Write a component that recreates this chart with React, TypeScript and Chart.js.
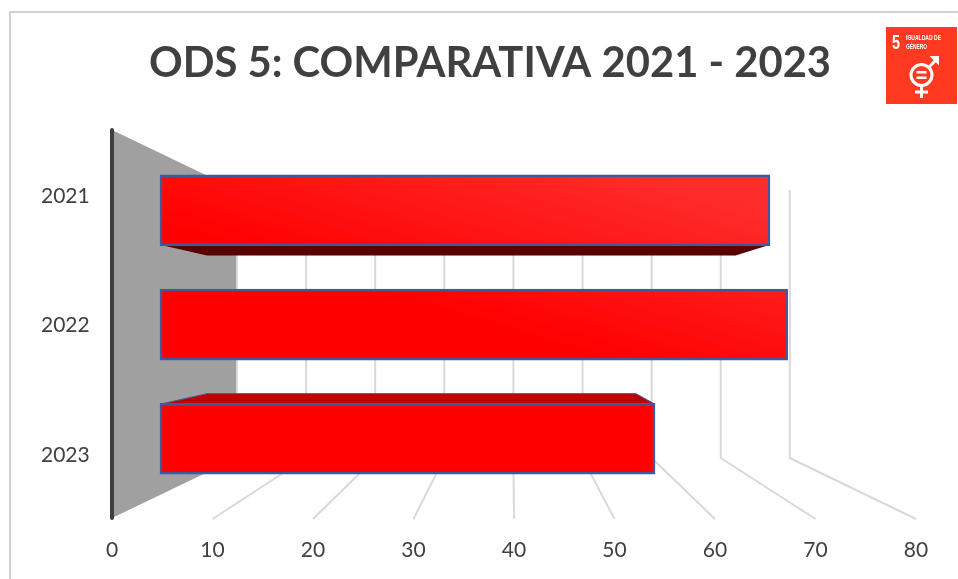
import React, { useEffect, useRef } from "react";
import { Chart, registerables } from "chart.js";

Chart.register(...registerables);

const years = ["2021", "2022", "2023"];
const values = [69, 71, 56];
const axisTicks = [0, 10, 20, 30, 40, 50, 60, 70, 80];

const FONT = "Lato, 'Open Sans', sans-serif";
const TEXT = "#404040";
const GRID = "#d9d9d9";

const BACK_TOP = 190;
const BACK_BOTTOM = 458;
const LIFT = 1.5;

// Places a hidden scale so that value 0 sits at pixel `p0`, spanning the 112..916 plot.
const hRange = (p0: number, perUnit: number) => ({
  min: (112 - p0) / perUnit,
  max: (916 - p0) / perUnit,
  offset: false,
});
const vRange = (spacing: number) => ({
  min: 1 - 193 / spacing,
  max: 1 + 195 / spacing,
  offset: false,
});

const decor = {
  id: "decor",
  beforeDraw(chart: any) {
    const { ctx } = chart;
    ctx.save();
    ctx.fillStyle = "#ffffff";
    ctx.fillRect(0, 0, chart.width, chart.height);
    ctx.strokeStyle = "#d0d0d0";
    ctx.lineWidth = 2;
    ctx.beginPath();
    ctx.moveTo(958, 12);
    ctx.lineTo(10, 12);
    ctx.lineTo(10, 579);
    ctx.stroke();

    // SDG 5 badge
    ctx.fillStyle = "#ff3a21";
    ctx.fillRect(886, 27, 71, 77);
    ctx.fillStyle = "#ffffff";
    ctx.textBaseline = "alphabetic";
    ctx.textAlign = "left";
    ctx.font = "bold 21px 'Liberation Sans', sans-serif";
    ctx.fillText("5", 892, 49, 8);
    ctx.font = "bold 7px 'Liberation Sans', sans-serif";
    ctx.fillText("IGUALDAD DE", 906, 40, 35);
    ctx.fillText("GÉNERO", 906, 49, 21);
    ctx.strokeStyle = "#ffffff";
    ctx.lineWidth = 3;
    ctx.beginPath();
    ctx.arc(921.5, 75, 10.5, 0, Math.PI * 2);
    ctx.moveTo(921.5, 86);
    ctx.lineTo(921.5, 98);
    ctx.moveTo(915, 92);
    ctx.lineTo(928, 92);
    ctx.moveTo(929, 67);
    ctx.lineTo(937, 59);
    ctx.stroke();
    ctx.beginPath();
    ctx.moveTo(939, 56);
    ctx.lineTo(939, 65.5);
    ctx.lineTo(929.5, 56);
    ctx.closePath();
    ctx.fill();
    ctx.fillRect(916.5, 71, 10, 2.5);
    ctx.fillRect(916.5, 76.5, 10, 2.5);
    ctx.restore();
  },
  beforeDatasetsDraw(chart: any) {
    const { ctx, scales } = chart;
    const { x, xBack, xBar, xRear, yBar, yRear, y } = scales;
    const wallTop = y.top - LIFT;
    const wallBottom = y.bottom - LIFT;
    const frontFloor = wallBottom + 1;
    const zero = x.getPixelForValue(0);
    const backZero = xBack.getPixelForValue(0);
    ctx.save();

    // left wall
    ctx.fillStyle = "#a0a0a0";
    ctx.beginPath();
    ctx.moveTo(zero, wallTop);
    ctx.lineTo(backZero, BACK_TOP);
    ctx.lineTo(backZero, BACK_BOTTOM);
    ctx.lineTo(zero, wallBottom);
    ctx.closePath();
    ctx.fill();

    // back wall + floor grid
    ctx.strokeStyle = GRID;
    ctx.lineWidth = 2;
    axisTicks.forEach((t) => {
      ctx.beginPath();
      ctx.moveTo(xBack.getPixelForValue(t), BACK_TOP);
      ctx.lineTo(xBack.getPixelForValue(t), BACK_BOTTOM);
      if (t > 0) ctx.lineTo(x.getPixelForValue(t), frontFloor);
      ctx.stroke();
    });

    // visible top / underside faces of the bars
    const half = 34.5;
    const rearHalf = half * (xRear.getPixelForValue(1) - xRear.getPixelForValue(0)) /
      (xBar.getPixelForValue(1) - xBar.getPixelForValue(0));
    ctx.strokeStyle = "#41599c";
    ctx.lineWidth = 1;
    values.forEach((v, i) => {
      const fl = xBar.getPixelForValue(0);
      const fr = xBar.getPixelForValue(v);
      const rl = xRear.getPixelForValue(0);
      const rr = xRear.getPixelForValue(v);
      const fy = yBar.getPixelForValue(i);
      const ry = yRear.getPixelForValue(i);
      if (ry + rearHalf > fy + half) {
        ctx.fillStyle = "#5a0000";
        ctx.beginPath();
        ctx.moveTo(fl, fy + half);
        ctx.lineTo(rl, ry + rearHalf);
        ctx.lineTo(rr, ry + rearHalf);
        ctx.lineTo(fr, fy + half);
        ctx.closePath();
        ctx.fill();
      }
      if (ry - rearHalf < fy - half) {
        ctx.fillStyle = "#c00000";
        ctx.beginPath();
        ctx.moveTo(fl, fy - half);
        ctx.lineTo(rl, ry - rearHalf);
        ctx.lineTo(rr, ry - rearHalf);
        ctx.lineTo(fr, fy - half);
        ctx.closePath();
        ctx.fill();
        ctx.stroke();
      }
    });

    // dark axis line
    ctx.strokeStyle = "#404040";
    ctx.lineWidth = 4;
    ctx.lineCap = "round";
    ctx.beginPath();
    ctx.moveTo(zero, wallTop);
    ctx.lineTo(zero, wallBottom);
    ctx.stroke();
    ctx.restore();
  },
};

export default function App() {
  const ref = useRef<HTMLCanvasElement>(null);
  useEffect(() => {
    document.body.style.margin = "0";
    const canvas = ref.current!;
    const gradient = canvas.getContext("2d")!.createLinearGradient(160, 224, 216, 41);
    gradient.addColorStop(0, "#ff0000");
    gradient.addColorStop(1, "#ff2c2c");
    const chart = new Chart(canvas, {
      type: "bar",
      data: {
        labels: years,
        datasets: [
          {
            data: values.map((v, i) => ({ x: v, y: i })),
            xAxisID: "xBar",
            yAxisID: "yBar",
            backgroundColor: gradient,
            borderColor: "#41599c",
            borderWidth: 2.5,
            borderSkipped: false,
            barThickness: 71,
          } as any,
        ],
      },
      options: {
        indexAxis: "y",
        animation: false,
        responsive: false,
        layout: { padding: { left: 64, right: 42, top: 0, bottom: 0 } },
        plugins: {
          legend: { display: false },
          tooltip: { enabled: false },
          title: {
            display: true,
            text: "ODS 5: COMPARATIVA 2021 - 2023",
            color: TEXT,
            font: { family: FONT, size: 41.75, weight: "bold", lineHeight: 1.2 },
            padding: { top: 38, bottom: 43.5 },
          },
        },
        scales: {
          x: {
            type: "linear",
            axis: "x",
            position: "bottom",
            min: 0,
            max: 80,
            offset: false,
            grid: { display: false },
            border: { display: false },
            afterFit: (s: any) => { s.height = 59.5; },
            afterBuildTicks: (s: any) => { s.ticks = axisTicks.map((value) => ({ value })); },
            ticks: {
              color: TEXT,
              padding: 10.5,
              maxRotation: 0,
              font: { family: FONT, size: 21 },
            },
          },
          y: {
            type: "category",
            axis: "y",
            position: "left",
            offset: true,
            grid: { display: false, drawTicks: false },
            border: { display: false },
            afterFit: (s: any) => { s.width = 48; },
            ticks: {
              color: TEXT,
              mirror: true,
              padding: -71,
              font: { family: FONT, size: 21 },
            },
          },
          xBar: { type: "linear", axis: "x", display: false, ...hRange(160, 8.84) },
          xRear: { type: "linear", axis: "x", display: false, ...hRange(207, 7.66) },
          xBack: { type: "linear", axis: "x", display: false, ...hRange(237, 6.91) },
          yBar: { type: "linear", axis: "y", display: false, reverse: true, ...vRange(114.25) },
          yRear: { type: "linear", axis: "y", display: false, reverse: true, ...vRange(99) },
        },
      } as any,
      plugins: [decor],
    });
    return () => chart.destroy();
  }, []);
  return (
    <div style={{ position: "absolute", left: 0, top: 0, width: 958, height: 579 }}>
      <canvas ref={ref} width={958} height={579} style={{ display: "block" }} />
    </div>
  );
}
